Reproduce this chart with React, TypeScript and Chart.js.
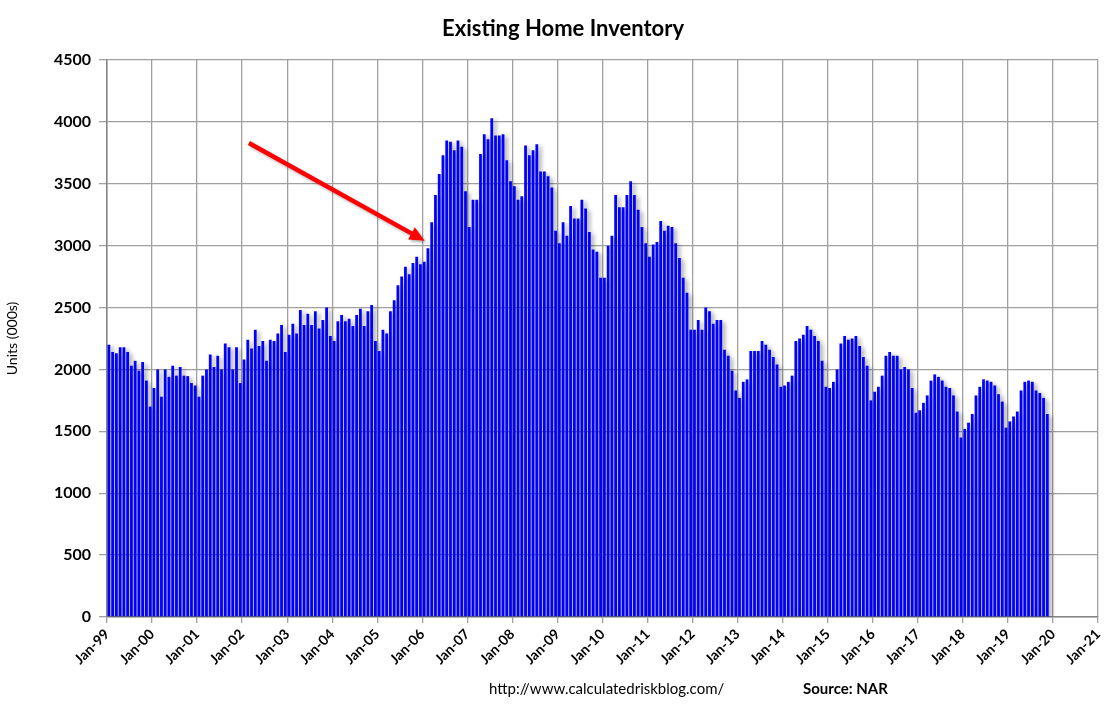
import React, { useEffect, useRef } from "react";
import { Chart, registerables } from "chart.js";

Chart.register(...registerables);

// Tick labels of the monthly date axis (one every 12 months)
const tickLabels = [
  "Jan-99", "Jan-00", "Jan-01", "Jan-02", "Jan-03", "Jan-04", "Jan-05", "Jan-06",
  "Jan-07", "Jan-08", "Jan-09", "Jan-10", "Jan-11", "Jan-12", "Jan-13", "Jan-14",
  "Jan-15", "Jan-16", "Jan-17", "Jan-18", "Jan-19", "Jan-20", "Jan-21",
];
const monthsPerTick = 12;

// Existing home inventory (000s), monthly, Jan-99 .. Nov-19
const inv1999 = [2200, 2140, 2130, 2180, 2180, 2140, 2030, 2070, 1990, 2060, 1910, 1700];
const inv2000 = [1850, 2000, 1780, 2000, 1940, 2030, 1950, 2020, 1950, 1946, 1890, 1870];
const inv2001 = [1780, 1950, 2000, 2120, 2020, 2110, 2000, 2210, 2180, 2000, 2180, 1890];
const inv2002 = [2080, 2240, 2170, 2320, 2190, 2230, 2070, 2240, 2230, 2290, 2360, 2140];
const inv2003 = [2280, 2370, 2290, 2480, 2360, 2450, 2360, 2470, 2330, 2400, 2500, 2270];
const inv2004 = [2230, 2390, 2440, 2390, 2410, 2350, 2440, 2490, 2350, 2470, 2520, 2230];
const inv2005 = [2150, 2320, 2290, 2470, 2560, 2680, 2750, 2830, 2770, 2860, 2910, 2850];
const inv2006 = [2870, 2980, 3190, 3410, 3580, 3730, 3850, 3840, 3770, 3850, 3800, 3440];
const inv2007 = [3150, 3370, 3370, 3740, 3900, 3860, 4030, 3890, 3890, 3900, 3690, 3520];
const inv2008 = [3480, 3370, 3400, 3810, 3730, 3770, 3820, 3600, 3600, 3560, 3470, 3120];
const inv2009 = [3020, 3190, 3080, 3320, 3220, 3220, 3370, 3300, 3110, 2970, 2950, 2740];
const inv2010 = [2740, 3000, 3080, 3410, 3310, 3310, 3410, 3520, 3410, 3290, 3150, 3020];
const inv2011 = [2910, 3010, 3030, 3200, 3120, 3160, 3150, 3020, 2900, 2740, 2620, 2320];
const inv2012 = [2320, 2400, 2320, 2500, 2470, 2370, 2400, 2400, 2160, 2110, 1990, 1830];
const inv2013 = [1770, 1900, 1920, 2150, 2150, 2150, 2230, 2200, 2160, 2100, 2040, 1860];
const inv2014 = [1870, 1900, 1950, 2230, 2250, 2280, 2350, 2320, 2270, 2230, 2070, 1860];
const inv2015 = [1850, 1900, 2000, 2210, 2270, 2240, 2250, 2270, 2190, 2100, 2030, 1750];
const inv2016 = [1820, 1860, 1950, 2110, 2140, 2110, 2110, 2000, 2020, 2000, 1850, 1650];
const inv2017 = [1670, 1730, 1790, 1910, 1960, 1940, 1910, 1860, 1850, 1790, 1660, 1450];
const inv2018 = [1520, 1570, 1640, 1790, 1860, 1920, 1910, 1900, 1870, 1800, 1740, 1530];
const inv2019 = [1580, 1620, 1660, 1830, 1900, 1910, 1900, 1830, 1810, 1770, 1640];

const inventory = [
  ...inv1999, ...inv2000, ...inv2001, ...inv2002, ...inv2003, ...inv2004, ...inv2005,
  ...inv2006, ...inv2007, ...inv2008, ...inv2009, ...inv2010, ...inv2011, ...inv2012,
  ...inv2013, ...inv2014, ...inv2015, ...inv2016, ...inv2017, ...inv2018, ...inv2019,
];

const yMax = 4500;
const yStep = 500;

// Annotation arrow, in data units (month index, units)
const arrowFrom = { month: 37.8, value: 3830 };
const arrowTo = { month: 84.6, value: 3040 };

const FONT = "Lato, 'Open Sans', sans-serif";

const decorPlugin = {
  id: "decor",
  beforeDatasetsDraw(chart: any) {
    const ctx = chart.ctx;
    ctx.save();
    ctx.shadowColor = "rgba(0,0,0,0.38)";
    ctx.shadowOffsetX = 3;
    ctx.shadowOffsetY = 2;
    ctx.shadowBlur = 4;
  },
  afterDatasetsDraw(chart: any) {
    chart.ctx.restore();
  },
  afterDraw(chart: any) {
    const ctx = chart.ctx;
    const xs = chart.scales.x;
    const ys = chart.scales.y;
    ctx.save();
    // title
    ctx.fillStyle = "#000";
    ctx.font = `bold 22px ${FONT}`;
    ctx.textAlign = "center";
    ctx.textBaseline = "middle";
    ctx.fillText("Existing Home Inventory", 563, 29);
    // footer
    ctx.font = `15px ${FONT}`;
    ctx.textAlign = "left";
    ctx.fillText("http://www.calculatedriskblog.com/", 489, 689);
    ctx.font = `bold 15px ${FONT}`;
    ctx.fillText("Source: NAR", 803, 689);
    // arrow
    const x1 = xs.getPixelForValue(arrowFrom.month);
    const y1 = ys.getPixelForValue(arrowFrom.value);
    const x2 = xs.getPixelForValue(arrowTo.month);
    const y2 = ys.getPixelForValue(arrowTo.value);
    const ang = Math.atan2(y2 - y1, x2 - x1);
    const headLen = 15;
    const headW = 7;
    const bx = x2 - headLen * Math.cos(ang);
    const by = y2 - headLen * Math.sin(ang);
    ctx.shadowColor = "rgba(0,0,0,0.3)";
    ctx.shadowOffsetX = 2;
    ctx.shadowOffsetY = 2;
    ctx.shadowBlur = 3;
    ctx.strokeStyle = "#FF0000";
    ctx.fillStyle = "#FF0000";
    ctx.lineWidth = 4.5;
    ctx.lineCap = "butt";
    ctx.beginPath();
    ctx.moveTo(x1, y1);
    ctx.lineTo(bx + 2 * Math.cos(ang), by + 2 * Math.sin(ang));
    ctx.stroke();
    ctx.beginPath();
    ctx.moveTo(x2, y2);
    ctx.lineTo(bx + headW * Math.sin(ang), by - headW * Math.cos(ang));
    ctx.lineTo(bx - headW * Math.sin(ang), by + headW * Math.cos(ang));
    ctx.closePath();
    ctx.fill();
    ctx.restore();
  },
};

export default function App() {
  const canvasRef = useRef<HTMLCanvasElement | null>(null);

  useEffect(() => {
    document.body.style.margin = "0";
    const canvas = canvasRef.current;
    if (!canvas) return;
    const data = inventory.map((v, i) => ({ x: i + 0.5, y: v }));
    const chart = new Chart(canvas, {
      type: "bar",
      data: {
        datasets: [
          {
            label: "Inventory",
            data,
            backgroundColor: "#0000FF",
            borderWidth: 0,
            barPercentage: 0.74,
            categoryPercentage: 1,
          },
        ],
      },
      options: {
        animation: false,
        responsive: true,
        maintainAspectRatio: false,
        layout: { padding: { top: 60, right: 14, bottom: 0, left: 0 } },
        plugins: {
          legend: { display: false },
          title: { display: false },
          tooltip: { enabled: false },
        },
        scales: {
          x: {
            type: "linear",
            offset: false,
            min: 0,
            max: (tickLabels.length - 1) * monthsPerTick,
            afterFit: (s: any) => {
              s.height = 91;
              s.paddingLeft = 0;
              s.paddingRight = 0;
            },
            afterBuildTicks: (s: any) => {
              s.ticks = tickLabels.map((_, i) => ({ value: i * monthsPerTick }));
            },
            ticks: {
              autoSkip: false,
              maxRotation: 45,
              minRotation: 45,
              padding: 3,
              color: "#000",
              font: { family: FONT, size: 14, weight: "bold" },
              callback: (v: any) => tickLabels[Math.round(Number(v) / monthsPerTick)] ?? "",
            },
            grid: {
              offset: false,
              color: "#a0a0a0",
              lineWidth: 1.3,
              tickLength: 6,
              drawTicks: true,
            },
            border: { color: "#868686", width: 1.5 },
          },
          y: {
            type: "linear",
            min: 0,
            max: yMax,
            afterFit: (s: any) => {
              s.width = 107;
              s.paddingTop = 0;
              s.paddingBottom = 0;
            },
            ticks: {
              stepSize: yStep,
              padding: 8,
              color: "#000",
              font: { family: FONT, size: 16, weight: "bold" },
              callback: (v: any) => String(v),
            },
            grid: {
              color: "#a0a0a0",
              lineWidth: 1.3,
              tickLength: 8,
            },
            border: { color: "#868686", width: 1.5 },
            title: {
              display: true,
              text: "Units (000s)",
              color: "#000",
              font: { family: FONT, size: 14 },
              padding: { top: 4, bottom: 0 },
            },
          },
        },
      },
      plugins: [decorPlugin],
    });
    return () => chart.destroy();
  }, []);

  return (
    <div style={{ position: "absolute", left: 0, top: 0, width: 1112, height: 708, background: "#fff" }}>
      <canvas ref={canvasRef} />
    </div>
  );
}
